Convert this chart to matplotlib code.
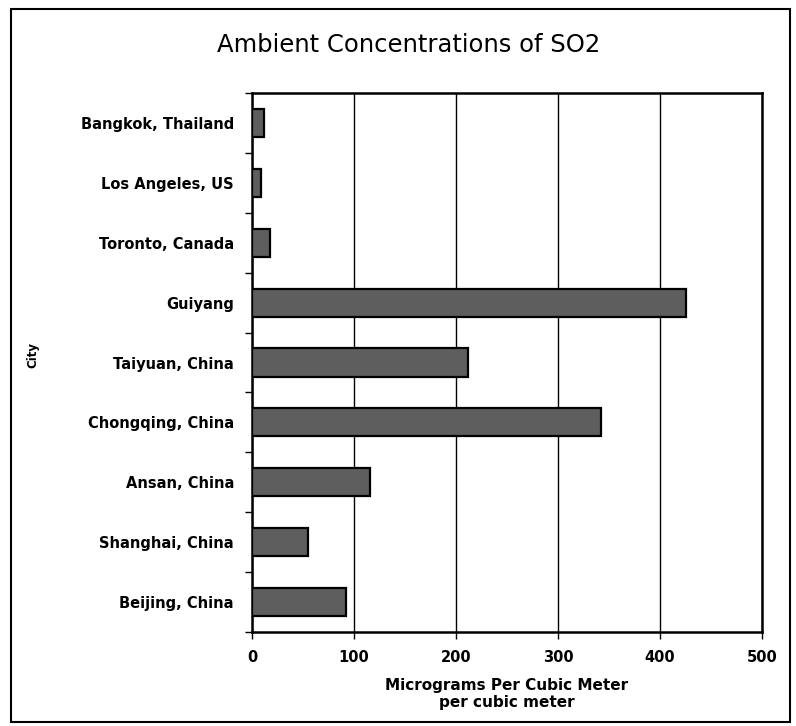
import matplotlib
matplotlib.use("Agg")
import matplotlib.pyplot as plt
from matplotlib.patches import Rectangle
import numpy as np

plt.rcParams['font.family'] = ['DejaVu Sans']

cities = ["Beijing, China", "Shanghai, China", "Ansan, China", "Chongqing, China",
          "Taiyuan, China", "Guiyang", "Toronto, Canada", "Los Angeles, US",
          "Bangkok, Thailand"]
values = [92, 55, 116, 342, 212, 425, 18, 9, 12]
xticks = [0, 100, 200, 300, 400, 500]

fig = plt.figure(figsize=(7.96, 7.26), dpi=100)
fig.patch.set_facecolor('white')
fig.add_artist(Rectangle((11/796, 1 - 722/726), (790 - 11)/796, (722 - 9)/726,
                         transform=fig.transFigure, fill=False,
                         edgecolor='black', linewidth=1.5))

ax = fig.add_axes([252/796, 1 - 632/726, (762 - 252)/796, (632 - 93)/726])
y = np.arange(len(cities))
ax.barh(y, values, height=0.47, color='#5e5e5e', edgecolor='black',
        linewidth=1.6, zorder=3)

ax.set_xlim(0, 500)
ax.set_ylim(-0.5, len(cities) - 0.5)
ax.set_xticks(xticks)
ax.set_xticklabels([str(t) for t in xticks], fontsize=10.5, fontweight='bold')
ax.xaxis.grid(True, color='black', linewidth=1.0, zorder=0)
ax.set_axisbelow(True)

ax.set_yticks(np.arange(-0.5, len(cities), 1.0))
ax.set_yticklabels([])
ax.set_yticks(y, minor=True)
ax.set_yticklabels(cities, minor=True, fontsize=10.5, fontweight='bold')
ax.tick_params(axis='y', which='major', direction='out', length=5, width=1)
ax.tick_params(axis='y', which='minor', length=0, pad=13)
ax.tick_params(axis='x', direction='out', length=5, width=1, pad=8)

for s in ax.spines.values():
    s.set_linewidth(1.8)

ax.set_xlabel("Micrograms Per Cubic Meter\nper cubic meter", fontsize=11,
              fontweight='bold', labelpad=9, linespacing=1.2)
fig.text(33/796, 1 - 355/726, "City", rotation=90, ha='center', va='center',
         fontsize=8.5, fontweight='bold')

fig.text(409/796, 1 - 45/726, "Ambient Concentrations of SO2", ha='center',
         va='center', fontsize=17.5)

fig.savefig("out.png", dpi=100)
